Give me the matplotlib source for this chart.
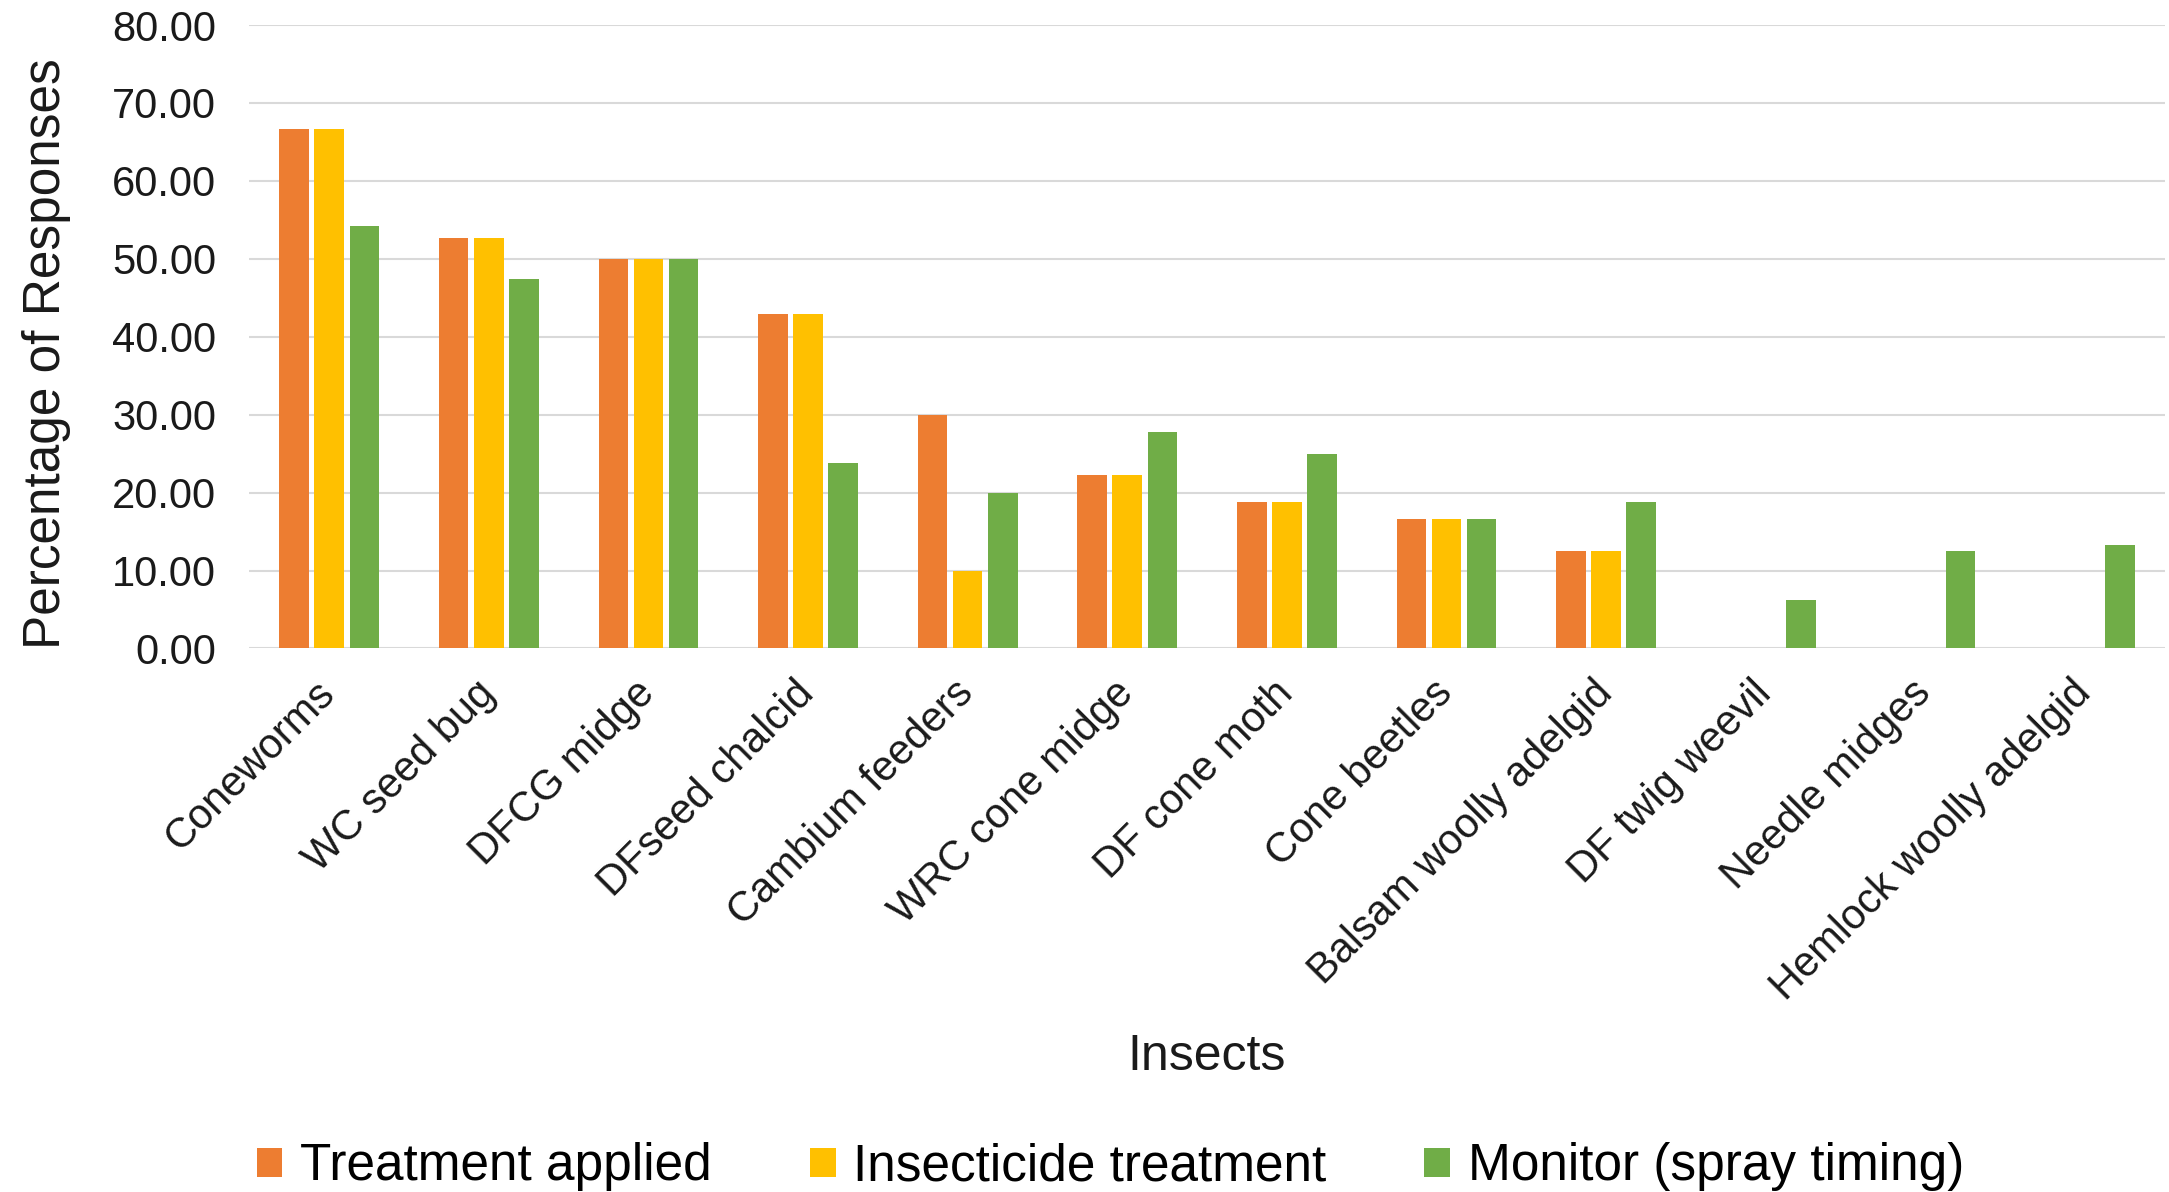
import numpy as np
import matplotlib.pyplot as plt

plt.rcParams['font.family'] = ['Liberation Sans', 'DejaVu Sans']

insects = ['Coneworms', 'WC seed bug', 'DFCG midge', 'DFseed chalcid',
           'Cambium feeders', 'WRC cone midge', 'DF cone moth', 'Cone beetles',
           'Balsam woolly adelgid', 'DF twig weevil', 'Needle midges',
           'Hemlock woolly adelgid']
treatment_applied = [66.67, 52.63, 50.00, 42.86, 30.00, 22.22, 18.75, 16.67, 12.50, 0, 0, 0]
insecticide_treatment = [66.67, 52.63, 50.00, 42.86, 10.00, 22.22, 18.75, 16.67, 12.50, 0, 0, 0]
monitor_spray = [54.17, 47.37, 50.00, 23.81, 20.00, 27.78, 25.00, 16.67, 18.75, 6.25, 12.50, 13.33]
yticks = [0, 10, 20, 30, 40, 50, 60, 70, 80]

series = [('Treatment applied', treatment_applied, '#ED7D31'),
          ('Insecticide treatment', insecticide_treatment, '#FFC000'),
          ('Monitor (spray timing)', monitor_spray, '#70AD47')]

fig = plt.figure(figsize=(21.69, 11.92), dpi=100)
ax = fig.add_axes([0.115, 0.456, 0.883, 0.523])

x = np.arange(len(insects))
step = 0.22
for i, (name, vals, col) in enumerate(series):
    ax.bar(x + (i - 1) * step, vals, width=0.185, color=col, label=name, zorder=3)

ax.set_xlim(-0.5, len(insects) - 0.5)
ax.set_ylim(0, 80)
ax.set_yticks(yticks)
ax.set_yticklabels([f'{v:.2f}' for v in yticks], fontsize=30, color='#1a1a1a')
ax.grid(axis='y', color='#D9D9D9', linewidth=1.5, zorder=0)
for s in ax.spines.values():
    s.set_visible(False)
ax.tick_params(axis='y', length=0, pad=24)
ax.tick_params(axis='x', length=0, pad=28)

ax.set_xticks(x)
ax.set_xticklabels(insects, rotation=45, ha='right', va='center',
                   rotation_mode='anchor', fontsize=30, color='#1a1a1a')

ax.set_ylabel('Percentage of Responses', fontsize=37, color='#1a1a1a')
ax.yaxis.set_label_coords(-0.093, 0.473)
ax.set_xlabel('Insects', fontsize=36, color='#1a1a1a')
ax.xaxis.set_label_coords(0.5, -0.618)

fig.legend(loc='center', bbox_to_anchor=(0.512, 0.021), ncol=3, frameon=False,
           fontsize=37, handlelength=0.5, handleheight=0.5, handletextpad=0.35,
           columnspacing=1.9)

plt.savefig('out.png', dpi=100)
